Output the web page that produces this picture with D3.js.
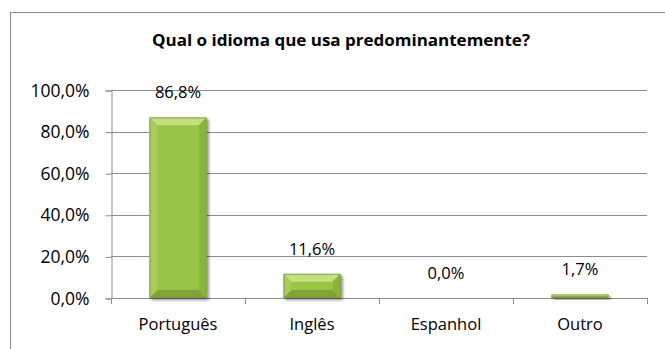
<!DOCTYPE html>
<html>
<head>
<meta charset="utf-8">
<script src="https://cdn.jsdelivr.net/npm/d3@7"></script>
<style>
  html, body { margin: 0; padding: 0; background: #fff; }
  svg { display: block; }
  text { font-family: "Open Sans", Lato, sans-serif; fill: #000; }
</style>
</head>
<body>
<script>
// Survey answers: predominant language
const categories = ["Português", "Inglês", "Espanhol", "Outro"];
const values = [86.8, 11.6, 0.0, 1.7];
const valueLabels = ["86,8%", "11,6%", "0,0%", "1,7%"];
const yTicks = [0, 20, 40, 60, 80, 100];
const yTickLabels = ["0,0%", "20,0%", "40,0%", "60,0%", "80,0%", "100,0%"];
const title = "Qual o idioma que usa predominantemente?";

const W = 665, H = 349;
const plot = { left: 111, right: 647, top: 90, bottom: 298 };
const FONT = "'Open Sans', Lato, sans-serif";

const svg = d3.select("body").append("svg")
  .attr("width", W).attr("height", H);

const defs = svg.append("defs");
const shadow = defs.append("filter").attr("id", "barShadow")
  .attr("x", "-20%").attr("y", "-20%").attr("width", "150%").attr("height", "150%");
shadow.append("feGaussianBlur").attr("in", "SourceAlpha").attr("stdDeviation", 1.4).attr("result", "b");
shadow.append("feOffset").attr("in", "b").attr("dx", 1.5).attr("dy", 2).attr("result", "o");
shadow.append("feComponentTransfer").attr("in", "o").attr("result", "s")
  .append("feFuncA").attr("type", "linear").attr("slope", 0.45);
const merge = shadow.append("feMerge");
merge.append("feMergeNode").attr("in", "s");
merge.append("feMergeNode").attr("in", "SourceGraphic");

// Chart frame (extends past the right and bottom edges)
svg.append("rect")
  .attr("x", 10.5).attr("y", 12.5)
  .attr("width", 700).attr("height", 400)
  .attr("fill", "#fff").attr("stroke", "#8c8c8c").attr("stroke-width", 1);

svg.append("text")
  .attr("x", 341).attr("y", 46)
  .attr("text-anchor", "middle")
  .attr("font-size", 16).attr("font-weight", "bold")
  .attr("textLength", 378).attr("lengthAdjust", "spacingAndGlyphs")
  .text(title);

const x = d3.scaleBand().domain(categories)
  .range([plot.left, plot.right]).paddingInner(0).paddingOuter(0);
const y = d3.scaleLinear().domain([0, 100]).range([plot.bottom, plot.top]);

// Horizontal gridlines
svg.append("g")
  .selectAll("line").data(yTicks).join("line")
  .attr("x1", plot.left).attr("x2", plot.right)
  .attr("y1", d => Math.round(y(d)) + 0.5).attr("y2", d => Math.round(y(d)) + 0.5)
  .attr("stroke", "#8c8c8c").attr("stroke-width", 1);

// Y axis
const yAxis = d3.axisLeft(y).tickValues(yTicks)
  .tickFormat((d, i) => yTickLabels[i]).tickSize(6).tickPadding(16);
const gy = svg.append("g").attr("transform", `translate(${plot.left + 0.5},0.5)`).call(yAxis);
gy.select(".domain").attr("stroke", "#8c8c8c");
gy.selectAll(".tick line").attr("stroke", "#8c8c8c");
gy.selectAll(".tick text").attr("font-size", 17.5).attr("font-family", FONT).attr("fill", "#000");

// X axis
const xAxis = d3.axisBottom(x).tickSize(0).tickPadding(20);
const gx = svg.append("g").attr("transform", `translate(0,${plot.bottom + 0.5})`).call(xAxis);
gx.select(".domain").attr("stroke", "#8c8c8c").attr("d", `M${plot.left},0H${plot.right}`);
gx.selectAll(".tick text").attr("font-size", 16.5).attr("font-family", FONT).attr("fill", "#000");
// Category separator ticks
svg.append("g").selectAll("line")
  .data(categories.map(c => x(c)).concat([plot.right]))
  .join("line")
  .attr("x1", d => Math.round(d) + 0.5).attr("x2", d => Math.round(d) + 0.5)
  .attr("y1", plot.bottom).attr("y2", plot.bottom + 6)
  .attr("stroke", "#8c8c8c");

// Bevelled bars
const barW = x.bandwidth() * 0.425;
const bars = svg.append("g").selectAll("g.bar")
  .data(categories.map((c, i) => ({ c, v: values[i], label: valueLabels[i] })))
  .join("g").attr("class", "bar");

bars.each(function (d) {
  const g = d3.select(this);
  const x0 = x(d.c) + (x.bandwidth() - barW) / 2;
  const x1 = x0 + barW;
  const y0 = y(d.v);
  const y1 = y(0);
  const h = y1 - y0;
  if (h <= 0.01) return;
  const b = Math.min(8, h / 2, barW / 2);
  const bg = g.append("g").attr("filter", "url(#barShadow)");
  bg.append("rect").attr("x", x0).attr("y", y0).attr("width", barW).attr("height", h)
    .attr("fill", "#9cc447");
  // top bevel
  bg.append("polygon")
    .attr("points", [[x0, y0], [x1, y0], [x1 - b, y0 + b], [x0 + b, y0 + b]].join(" "))
    .attr("fill", "#c5e07f");
  // left bevel
  bg.append("polygon")
    .attr("points", [[x0, y0], [x0 + b, y0 + b], [x0 + b, y1 - b], [x0, y1]].join(" "))
    .attr("fill", "#a8cd57");
  // right bevel
  bg.append("polygon")
    .attr("points", [[x1, y0], [x1 - b, y0 + b], [x1 - b, y1 - b], [x1, y1]].join(" "))
    .attr("fill", "#8ab53b");
  // bottom bevel
  bg.append("polygon")
    .attr("points", [[x0, y1], [x0 + b, y1 - b], [x1 - b, y1 - b], [x1, y1]].join(" "))
    .attr("fill", "#7ea534");
  // face
  bg.append("rect").attr("x", x0 + b).attr("y", y0 + b)
    .attr("width", Math.max(0, barW - 2 * b)).attr("height", Math.max(0, h - 2 * b))
    .attr("fill", "#9ac445");
  bg.append("rect").attr("x", x0 + 0.5).attr("y", y0 + 0.5)
    .attr("width", barW - 1).attr("height", Math.max(0, h - 1))
    .attr("fill", "none").attr("stroke", "#7f9a4a").attr("stroke-width", 1).attr("stroke-opacity", 0.8);
});

// Value labels
bars.append("text")
  .attr("x", d => x(d.c) + x.bandwidth() / 2)
  .attr("y", d => y(d.v) - 19)
  .attr("text-anchor", "middle")
  .attr("font-size", 16.5)
  .text(d => d.label);
</script>
</body>
</html>
